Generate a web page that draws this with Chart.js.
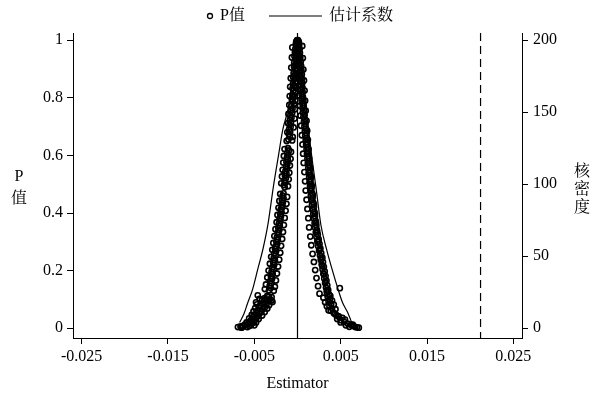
<!DOCTYPE html>
<html>
<head>
<meta charset="utf-8">
<script src="https://cdn.jsdelivr.net/npm/chart.js@4.4.0/dist/chart.umd.min.js"></script>
<style>
  html, body { margin: 0; padding: 0; background: #fff; }
  #wrap { width: 599px; height: 393px; position: relative; }
</style>
</head>
<body>
<div id="wrap"><canvas id="mainChart" width="599" height="393"></canvas></div>
<script>
// placebo estimates: [estimator, p value], left and right of zero
const leftPoints = [
  [-0.00005,1.000],[-0.00015,0.995],[-0.00002,0.990],[-0.00020,0.985],[-0.00010,0.978],[-0.00025,0.970],[-0.00012,0.965],[-0.00030,0.958],[-0.00018,0.950],[-0.00035,0.944],[-0.00022,0.937],[-0.00010,0.930],[-0.00038,0.922],[-0.00025,0.915],[-0.00040,0.908],[-0.00028,0.900],[-0.00015,0.893],[-0.00045,0.886],[-0.00033,0.879],[-0.00050,0.871],[-0.00038,0.864],[-0.00025,0.856],[-0.00052,0.849],[-0.00040,0.841],[-0.00058,0.833],[-0.00045,0.826],[-0.00030,0.818],[-0.00060,0.810],[-0.00048,0.802],[-0.00065,0.795],[-0.00055,0.787],[-0.00040,0.779],[-0.00070,0.771],[-0.00058,0.763],[-0.00075,0.755],[-0.00062,0.747],[-0.00082,0.739],[-0.00070,0.731],[-0.00088,0.723],[-0.00075,0.715],[-0.00092,0.707],[-0.00080,0.699],[-0.00098,0.690],[-0.00085,0.682],[-0.00100,0.674],[-0.00090,0.666],[-0.00105,0.655],
  [-0.00110,0.625],[-0.00098,0.617],[-0.00118,0.609],[-0.00105,0.601],[-0.00122,0.593],[-0.00112,0.585],[-0.00128,0.577],[-0.00118,0.569],[-0.00132,0.561],[-0.00122,0.553],[-0.00140,0.545],[-0.00128,0.537],[-0.00145,0.529],[-0.00135,0.521],[-0.00150,0.513],[-0.00142,0.505],[-0.00158,0.497],[-0.00148,0.489],
  [-0.00162,0.468],[-0.00172,0.460],[-0.00162,0.452],[-0.00180,0.444],[-0.00170,0.436],[-0.00185,0.428],[-0.00178,0.420],[-0.00195,0.412],[-0.00185,0.404],[-0.00200,0.396],[-0.00192,0.388],[-0.00208,0.380],[-0.00198,0.372],[-0.00215,0.364],[-0.00205,0.356],[-0.00222,0.348],[-0.00212,0.340],[-0.00230,0.332],[-0.00220,0.324],[-0.00238,0.316],[-0.00228,0.308],[-0.00245,0.300],[-0.00235,0.292],[-0.00252,0.284],
  [-0.00260,0.276],[-0.00248,0.268],[-0.00268,0.260],[-0.00255,0.252],[-0.00275,0.244],[-0.00262,0.236],[-0.00282,0.228],[-0.00270,0.220],[-0.00290,0.212],[-0.00278,0.204],[-0.00300,0.196],[-0.00288,0.188],[-0.00308,0.180],[-0.00295,0.172],[-0.00315,0.164],[-0.00305,0.156],[-0.00322,0.148],[-0.00310,0.140],[-0.00330,0.132],
  [-0.00350,0.112],[-0.00300,0.108],[-0.00380,0.104],[-0.00320,0.100],[-0.00410,0.097],[-0.00340,0.094],[-0.00480,0.090],[-0.00290,0.091],[-0.00395,0.086],[-0.00360,0.082],[-0.00430,0.078],[-0.00375,0.074],[-0.00445,0.070],[-0.00400,0.066],[-0.00460,0.062],[-0.00420,0.058],[-0.00475,0.054],[-0.00440,0.050],[-0.00500,0.046],[-0.00455,0.042],[-0.00520,0.038],[-0.00480,0.034],[-0.00535,0.030],[-0.00500,0.026],[-0.00555,0.022],[-0.00520,0.018],[-0.00575,0.014],[-0.00540,0.010],[-0.00630,0.008],[-0.00660,0.006],[-0.00580,0.004],[-0.00640,0.003],[-0.00690,0.004]
];
// outer and inner edges of the left band
const leftEdgePoints = [
  [-0.00060,0.975],[-0.00005,0.960],[-0.00065,0.940],[-0.00008,0.925],[-0.00072,0.905],[-0.00012,0.885],[-0.00078,0.868],[-0.00015,0.852],[-0.00085,0.838],[-0.00020,0.822],[-0.00090,0.806],[-0.00025,0.790],[-0.00095,0.775],[-0.00030,0.760],[-0.00105,0.744],[-0.00035,0.728],[-0.00110,0.712],[-0.00045,0.697],[-0.00118,0.680],[-0.00055,0.664],[-0.00125,0.650],[-0.00062,0.652],
  [-0.00150,0.622],[-0.00075,0.612],[-0.00158,0.598],[-0.00080,0.588],[-0.00165,0.575],[-0.00088,0.565],[-0.00172,0.550],[-0.00095,0.540],[-0.00180,0.527],[-0.00102,0.517],[-0.00188,0.503],[-0.00110,0.493],[-0.00200,0.466],[-0.00120,0.456],[-0.00210,0.442],[-0.00128,0.432],[-0.00220,0.418],[-0.00138,0.408],[-0.00232,0.393],[-0.00148,0.383],[-0.00242,0.368],[-0.00158,0.358],[-0.00255,0.344],[-0.00168,0.334],[-0.00268,0.320],[-0.00178,0.310],[-0.00280,0.296],[-0.00190,0.286],
  [-0.00292,0.272],[-0.00200,0.262],[-0.00305,0.248],[-0.00212,0.238],[-0.00320,0.224],[-0.00225,0.214],[-0.00335,0.200],[-0.00238,0.190],[-0.00350,0.176],[-0.00250,0.166],[-0.00365,0.152],[-0.00262,0.144],[-0.00378,0.136],[-0.00275,0.130],
  [-0.00460,0.114],[-0.00330,0.110],[-0.00440,0.102],[-0.00370,0.098],[-0.00300,0.096],[-0.00470,0.083],[-0.00330,0.080],[-0.00490,0.070],[-0.00350,0.068],[-0.00510,0.058],[-0.00380,0.056],[-0.00530,0.046],[-0.00410,0.044],[-0.00560,0.034],[-0.00450,0.032],[-0.00590,0.020],[-0.00480,0.020],[-0.00610,0.012],[-0.00500,0.010],[-0.00650,0.002],[-0.00560,0.008]
];

const rightPoints = [
  [0.00005,1.000],[0.00015,0.995],[0.00002,0.990],[0.00020,0.984],[0.00010,0.977],[0.00025,0.970],[0.00012,0.963],[0.00028,0.956],[0.00018,0.948],[0.00032,0.941],[0.00022,0.934],[0.00038,0.926],[0.00025,0.919],[0.00042,0.911],[0.00030,0.904],[0.00045,0.896],[0.00035,0.889],[0.00050,0.881],[0.00038,0.874],[0.00052,0.866],[0.00040,0.858],[0.00055,0.851],[0.00042,0.843],[0.00058,0.835],[0.00045,0.828],[0.00060,0.820],[0.00048,0.812],[0.00062,0.804],[0.00050,0.796],[0.00068,0.789],[0.00055,0.781],[0.00072,0.773],[0.00058,0.765],[0.00078,0.757],[0.00062,0.749],[0.00082,0.741],[0.00068,0.733],[0.00088,0.725],[0.00075,0.717],[0.00092,0.709],[0.00080,0.701],[0.00098,0.693],[0.00085,0.685],[0.00102,0.677],[0.00090,0.669],[0.00108,0.661],[0.00095,0.653],
  [0.00112,0.645],[0.00100,0.637],[0.00118,0.629],[0.00105,0.621],[0.00122,0.613],[0.00110,0.605],[0.00128,0.597],[0.00115,0.589],[0.00132,0.581],[0.00120,0.573],[0.00138,0.565],[0.00125,0.557],[0.00142,0.549],[0.00130,0.541],[0.00148,0.533],[0.00135,0.525],[0.00152,0.517],[0.00140,0.509],[0.00158,0.501],[0.00145,0.493],[0.00162,0.485],[0.00150,0.477],[0.00170,0.469],[0.00155,0.461],[0.00175,0.453],[0.00162,0.445],[0.00182,0.437],[0.00168,0.429],[0.00190,0.421],[0.00175,0.413],[0.00195,0.405],[0.00182,0.397],[0.00202,0.389],[0.00190,0.381],[0.00210,0.373],[0.00198,0.365],[0.00218,0.357],[0.00205,0.349],[0.00225,0.341],[0.00212,0.333],[0.00235,0.325],[0.00220,0.317],[0.00245,0.309],[0.00230,0.301],
  [0.00255,0.293],[0.00240,0.285],[0.00265,0.277],[0.00250,0.269],[0.00275,0.261],[0.00260,0.253],[0.00288,0.245],[0.00270,0.237],[0.00295,0.229],[0.00280,0.221],[0.00305,0.213],[0.00290,0.205],[0.00315,0.197],[0.00300,0.189],[0.00325,0.181],[0.00310,0.173],[0.00335,0.165],[0.00320,0.157],[0.00345,0.149],[0.00330,0.141],[0.00490,0.139],[0.00355,0.133],[0.00340,0.125],[0.00365,0.117],[0.00350,0.109],[0.00375,0.101],[0.00360,0.093],[0.00390,0.085],[0.00370,0.077],[0.00400,0.069],[0.00385,0.061],
  [0.00420,0.053],[0.00450,0.045],[0.00480,0.040],[0.00520,0.036],[0.00460,0.032],[0.00500,0.028],[0.00540,0.022],[0.00580,0.016],[0.00620,0.012],[0.00650,0.008],[0.00600,0.005],[0.00690,0.003],[0.00710,0.002]
];
// outer and inner edges of the right band
const rightEdgePoints = [
  [0.00055,0.980],[0.00003,0.958],[0.00062,0.938],[0.00008,0.918],[0.00068,0.898],[0.00012,0.878],[0.00075,0.860],[0.00018,0.842],[0.00082,0.825],[0.00022,0.808],[0.00088,0.790],[0.00028,0.772],[0.00095,0.755],[0.00035,0.738],[0.00105,0.720],[0.00042,0.703],[0.00112,0.686],[0.00050,0.670],[0.00120,0.654],[0.00058,0.638],
  [0.00128,0.622],[0.00065,0.606],[0.00135,0.590],[0.00072,0.574],[0.00145,0.558],[0.00080,0.542],[0.00155,0.526],[0.00088,0.510],[0.00165,0.494],[0.00095,0.478],[0.00178,0.462],[0.00105,0.446],[0.00190,0.430],[0.00115,0.414],[0.00202,0.398],[0.00125,0.382],[0.00215,0.366],[0.00135,0.350],[0.00228,0.334],[0.00148,0.318],[0.00242,0.302],[0.00160,0.288],
  [0.00258,0.272],[0.00175,0.258],[0.00272,0.244],[0.00190,0.230],[0.00288,0.216],[0.00205,0.202],[0.00305,0.188],[0.00220,0.174],[0.00322,0.160],[0.00238,0.146],[0.00340,0.132],[0.00255,0.120],[0.00380,0.112],[0.00300,0.106],[0.00400,0.096],[0.00320,0.090],[0.00420,0.082],[0.00340,0.076],[0.00440,0.066],[0.00360,0.062],[0.00430,0.050],[0.00470,0.042],[0.00550,0.030],[0.00500,0.020],[0.00560,0.010],[0.00640,0.012],[0.00670,0.004]
];

// kernel density of the estimates (right axis)
const densEst = [-0.0067,-0.0062,-0.0058,-0.0052,-0.0046,-0.0040,-0.0034,-0.0028,-0.0022,-0.0017,-0.0011,-0.0006,-0.0002,0.0000,0.0003,0.0006,0.0012,0.0017,0.0022,0.0027,0.0034,0.0040,0.0047,0.0052,0.0058,0.0064];
const densVal = [4,10,17,27,41,55,73,98,120,138,152,172,194,200,188,172,141,117,95,72,54,41,27,18,11,2];

const xTicks = [-0.025,-0.015,-0.005,0.005,0.015,0.025];
const pTicks = [0,0.2,0.4,0.6,0.8,1];
const densTicks = [0,50,100,150,200];
const refLines = [{value: 0, dash: []}, {value: 0.0212, dash: [8,5]}];

const serif = "'Liberation Serif', 'Times New Roman', 'Noto Serif CJK SC', 'Noto Sans CJK SC', serif";
Chart.defaults.font.family = serif;
Chart.defaults.font.size = 16;
Chart.defaults.color = '#000';

const scatterData = leftPoints.concat(leftEdgePoints, rightPoints, rightEdgePoints).map(r => ({x: r[0], y: r[1]}));
const densData = densEst.map((x, i) => ({x: x, y: densVal[i]}));

function fixedTicks(list){
  return (scale) => { scale.ticks = list.map(v => ({value: v})); };
}

const axisGrid = { display: true, drawOnChartArea: false, drawTicks: true, tickLength: 6, color: '#000', lineWidth: 1 };
const axisBorder = { display: true, color: '#000', width: 1 };

// vertical reference lines + legend + stacked axis titles
const extras = {
  id: 'extras',
  afterDatasetsDraw(chart){
    const {ctx, chartArea} = chart;
    const xs = chart.scales.x;
    ctx.save();
    ctx.strokeStyle = '#000';
    ctx.lineWidth = 1.2;
    refLines.forEach(r => {
      const px = xs.getPixelForValue(r.value);
      ctx.setLineDash(r.dash);
      ctx.beginPath();
      ctx.moveTo(px, chartArea.top);
      ctx.lineTo(px, chartArea.bottom);
      ctx.stroke();
    });
    ctx.setLineDash([]);
    ctx.restore();
  },
  afterDraw(chart){
    const ctx = chart.ctx;
    ctx.save();
    ctx.fillStyle = '#000';
    ctx.strokeStyle = '#000';
    ctx.font = '16px ' + serif;
    ctx.textBaseline = 'middle';
    // legend
    ctx.lineWidth = 1.3;
    ctx.beginPath();
    ctx.arc(210, 16, 2.5, 0, Math.PI * 2);
    ctx.stroke();
    ctx.textAlign = 'left';
    ctx.fillText('P值', 220, 16);
    ctx.lineWidth = 1.2;
    ctx.beginPath();
    ctx.moveTo(269, 16);
    ctx.lineTo(322, 16);
    ctx.stroke();
    ctx.fillText('估计系数', 329, 16);
    // axis titles, one character per line
    ctx.textAlign = 'center';
    ctx.fillText('P', 19, 177);
    ctx.fillText('值', 19, 199);
    ['核','密','度'].forEach((c, i) => ctx.fillText(c, 582, 172 + i * 18));
    ctx.restore();
  }
};

const config = {
  type: 'scatter',
  data: {
    datasets: [
      {
        label: 'P值',
        data: scatterData,
        yAxisID: 'y',
        pointStyle: 'circle',
        pointRadius: 2.6,
        pointBorderWidth: 1.6,
        pointBorderColor: '#000',
        pointBackgroundColor: 'rgba(0,0,0,0)'
      },
      {
        label: '估计系数',
        type: 'line',
        data: densData,
        yAxisID: 'y2',
        borderColor: '#000',
        borderWidth: 1.2,
        pointRadius: 0,
        cubicInterpolationMode: 'monotone',
        fill: false
      }
    ]
  },
  options: {
    responsive: false,
    animation: false,
    layout: { padding: { top: 33, left: 0, right: 0, bottom: 0 } },
    plugins: { legend: { display: false }, tooltip: { enabled: false } },
    scales: {
      x: {
        type: 'linear',
        min: -0.026,
        max: 0.026,
        afterBuildTicks: fixedTicks(xTicks),
        afterFit: (s) => { s.height = 55; },
        ticks: { padding: 3, maxRotation: 0, callback: (v) => String(v) },
        grid: axisGrid,
        border: axisBorder,
        title: { display: true, text: 'Estimator', padding: { top: 0, bottom: 0 } }
      },
      y: {
        position: 'left',
        min: -0.034,
        max: 1.025,
        afterBuildTicks: fixedTicks(pTicks),
        afterFit: (s) => { s.width = 73; },
        ticks: { padding: 4, callback: (v) => String(v) },
        grid: axisGrid,
        border: axisBorder
      },
      y2: {
        position: 'right',
        min: -6.8,
        max: 205,
        afterBuildTicks: fixedTicks(densTicks),
        afterFit: (s) => { s.width = 77; },
        ticks: { padding: 5, callback: (v) => String(v) },
        grid: axisGrid,
        border: axisBorder
      }
    }
  },
  plugins: [extras]
};

new Chart(document.getElementById('mainChart').getContext('2d'), config);
</script>
</body>
</html>
